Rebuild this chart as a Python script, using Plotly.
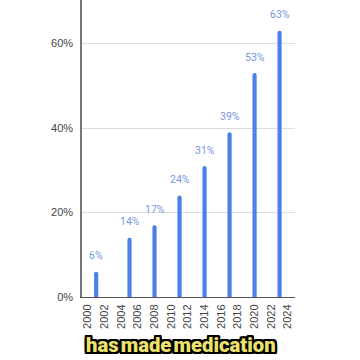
import plotly.graph_objects as go

years = [2001, 2005, 2008, 2011, 2014, 2017, 2020, 2023]
values = [6, 14, 17, 24, 31, 39, 53, 63]
labels = ["6%", "14%", "17%", "24%", "31%", "39%", "53%", "63%"]
tick_years = list(range(2000, 2025, 2))
y_ticks = [0, 20, 40, 60]
y_tick_text = ["0%", "20%", "40%", "60%"]
caption_words = ["has", "made", "medication"]

fig = go.Figure()
fig.add_trace(go.Bar(
    x=years, y=values, width=0.5,
    marker=dict(color="#4a80e8", line=dict(width=0), cornerradius=2),
    cliponaxis=False, hoverinfo="skip",
))

for yr, v, lab in zip(years, values, labels):
    fig.add_annotation(
        x=yr, y=v, xref="x", yref="y", text=lab, showarrow=False,
        yanchor="middle", xanchor="center", yshift=16,
        font=dict(color="#7497dc", size=10.5, family="Roboto"),
    )

shadow = ", ".join(f"{dx}px {dy}px 0 #000" for dx in (-2, -1, 0, 1, 2) for dy in (-2, -1, 0, 1, 2) if dx or dy)
fig.add_annotation(
    x=0.5, y=-0.162, xref="paper", yref="paper", xanchor="center", yanchor="middle",
    text="\u200a".join(caption_words), showarrow=False, xshift=-8,
    font=dict(family="Roboto", size=20.3, weight=900, color="#ece26f", shadow=shadow),
)

fig.update_layout(
    width=360, height=360,
    margin=dict(l=82, r=65, t=0, b=63),
    paper_bgcolor="white", plot_bgcolor="white",
    showlegend=False,
    xaxis=dict(
        range=[1999.3, 2024.85],
        tickmode="array", tickvals=tick_years, ticktext=[str(y) for y in tick_years],
        tickangle=-90, showgrid=False, showline=True, linecolor="#555", linewidth=1,
        ticks="", tickfont=dict(size=11, color="#444", family="Liberation Sans"),
        zeroline=False, ticklabelstandoff=2,
    ),
    yaxis=dict(
        range=[0, 70.3],
        tickmode="array", tickvals=y_ticks, ticktext=y_tick_text,
        showgrid=True, gridcolor="#dddddd", gridwidth=1,
        showline=True, linecolor="#777", linewidth=1.5,
        ticks="", tickfont=dict(size=11, color="#444", family="Liberation Sans"),
        zeroline=False, ticklabelstandoff=5,
    ),
)

fig.write_html("out.html", config={"displayModeBar": False},
               post_script="document.body.style.margin='0';")
